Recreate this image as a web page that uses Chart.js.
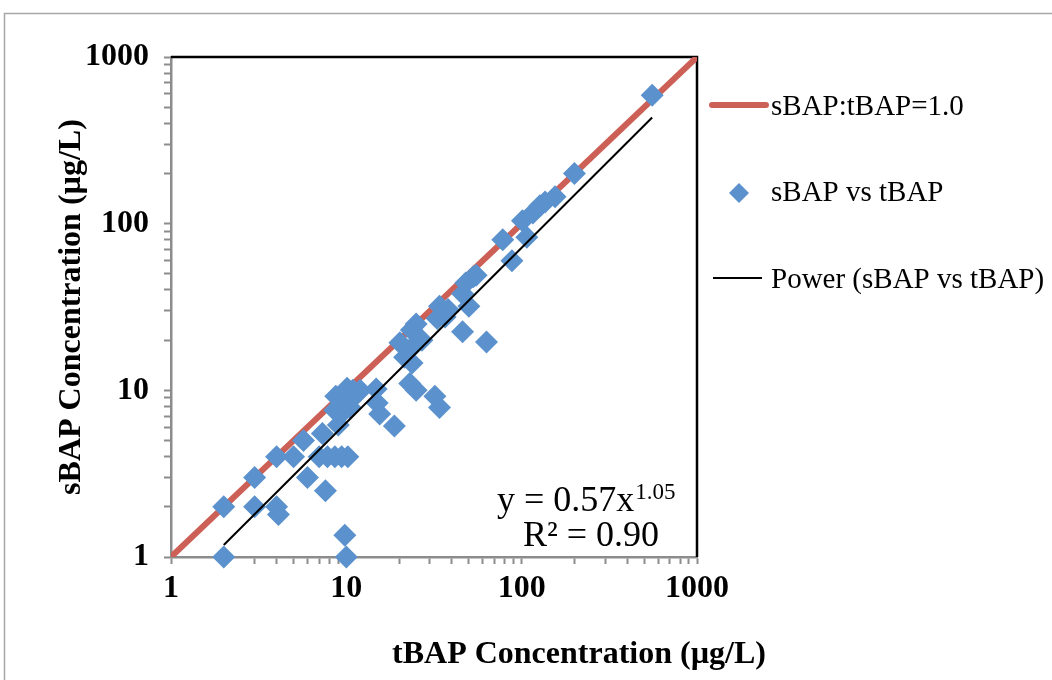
<!DOCTYPE html>
<html>
<head>
<meta charset="utf-8">
<script src="https://cdn.jsdelivr.net/npm/chart.js@4.4.1/dist/chart.umd.min.js"></script>
<style>
  html, body { margin: 0; padding: 0; background: #fff; overflow: hidden; }
</style>
</head>
<body>
<canvas id="mycanvas" width="1052" height="680"></canvas>
<script>
// tBAP (x) and sBAP (y), ug/L
var tBAP = [2, 2, 3, 3, 4, 4, 4.1, 5, 5.7, 6, 7.6, 7.3, 7, 7.8, 8.6, 9.4, 10.2, 9.8, 10,
            8.7, 9.4, 10.1, 10.9, 11.6, 12, 14.8, 8.6, 9, 9.2, 10.5, 15, 15.5, 18.8,
            20.2, 21.5, 23, 23.7, 23.5, 25, 27, 23, 25, 32, 34, 33, 34, 36.6, 38, 46, 63,
            46, 48, 50, 53, 55, 88, 78, 101, 107, 116, 127, 136, 155, 200, 555];
var sBAP = [1, 2, 3, 2, 4, 2, 1.8, 4, 5, 3, 2.5, 5.5, 4, 4, 4, 4, 4, 1.35, 1,
            9.2, 8.4, 10.3, 10, 9.6, 10, 10.2, 7.6, 6.2, 7.1, 7.9, 8.4, 7.2, 6.1,
            19.3, 15.8, 17.5, 14.6, 23, 25, 20, 11, 10, 9.2, 7.9, 27, 32, 27.5, 30.5, 22.5, 19.5,
            38, 44, 32, 48, 49, 60, 80, 104, 83, 116, 128, 135, 145, 200, 590];

// 1:1 line and the power trendline ends
var ratioX = [1, 1000];
var ratioY = [1, 1000];
var powerX = [2, 555];
var powerY = [1.18, 434];

var tickVals = [1, 2, 3, 4, 5, 6, 7, 8, 9, 10, 20, 30, 40, 50, 60, 70, 80, 90,
                100, 200, 300, 400, 500, 600, 700, 800, 900, 1000];
var tickLabels = ['1', '10', '100', '1000'];

var seriesNames = ['sBAP:tBAP=1.0', 'sBAP vs tBAP', 'Power (sBAP vs tBAP)'];
var xTitle = 'tBAP Concentration (\u00b5g/L)';
var yTitle = 'sBAP Concentration (\u00b5g/L)';
var eqText = 'y = 0.57x';
var eqExp = '1.05';
var r2Text = 'R\u00b2 = 0.90';

var RED = 'rgb(205,96,86)';
var BLUE = 'rgb(91,146,205)';
var AXIS = '#8c8c8c';

function pairs(xs, ys) {
	var out = [];
	for (var i in xs) {
		out.push({x: xs[i], y: ys[i]});
	}
	return out;
}

function setTicks(scale) {
	scale.ticks = tickVals.map(function(v) { return {value: v}; });
}

function tickLabel(v) {
	return tickLabels.indexOf(String(v)) >= 0 ? String(v) : '';
}

var extras = {
	id: 'extras',
	beforeDraw: function(chart) {
		var ctx = chart.ctx;
		ctx.save();
		ctx.strokeStyle = '#a6a6a6';
		ctx.lineWidth = 1.5;
		ctx.strokeRect(4.5, 13.5, 1200, 800);
		ctx.restore();
	},
	beforeDatasetsDraw: function(chart) {
		var a = chart.chartArea, ctx = chart.ctx;
		ctx.save();
		ctx.strokeStyle = '#000';
		ctx.lineWidth = 2.5;
		ctx.beginPath();
		ctx.moveTo(a.left, a.top);
		ctx.lineTo(a.right, a.top);
		ctx.lineTo(a.right, a.bottom);
		ctx.stroke();
		ctx.restore();
	},
	afterDraw: function(chart) {
		var a = chart.chartArea, ctx = chart.ctx;
		ctx.save();
		ctx.fillStyle = '#000';

		// x axis title
		ctx.font = 'bold 32px "Liberation Serif"';
		ctx.textAlign = 'center';
		ctx.textBaseline = 'middle';
		ctx.fillText(xTitle, 579, 655);

		// legend
		var lx = a.right + 15;
		var tx = a.right + 74;
		ctx.textAlign = 'left';
		ctx.font = '29px "Liberation Serif"';

		ctx.strokeStyle = RED;
		ctx.lineWidth = 6;
		ctx.lineCap = 'round';
		ctx.beginPath();
		ctx.moveTo(lx, 105);
		ctx.lineTo(lx + 54, 105);
		ctx.stroke();
		ctx.fillText(seriesNames[0], tx, 107);

		ctx.fillStyle = BLUE;
		ctx.beginPath();
		ctx.moveTo(lx + 27 - 10, 193);
		ctx.lineTo(lx + 27, 183);
		ctx.lineTo(lx + 27 + 10, 193);
		ctx.lineTo(lx + 27, 203);
		ctx.closePath();
		ctx.fill();
		ctx.fillStyle = '#000';
		ctx.fillText(seriesNames[1], tx, 193);

		ctx.strokeStyle = '#000';
		ctx.lineWidth = 2;
		ctx.lineCap = 'butt';
		ctx.beginPath();
		ctx.moveTo(lx + 1, 278);
		ctx.lineTo(lx + 50, 278);
		ctx.stroke();
		ctx.fillText(seriesNames[2], tx, 280);

		// trendline equation
		ctx.textBaseline = 'alphabetic';
		ctx.font = '36px "Liberation Serif"';
		var ex = a.right - 200;
		ctx.fillText(eqText, ex, a.bottom - 46);
		var w = ctx.measureText(eqText).width;
		ctx.font = '23px "Liberation Serif"';
		ctx.fillText(eqExp, ex + w + 1, a.bottom - 58);
		ctx.font = '36px "Liberation Serif"';
		ctx.fillText(r2Text, a.right - 174, a.bottom - 11);
		ctx.restore();
	}
};

Chart.defaults.font.family = '"Liberation Serif"';
Chart.defaults.color = '#000';

var ctx = document.getElementById('mycanvas');

var chart = new Chart(ctx, {
	type: 'scatter',
	data: {
		datasets: [
			{
				type: 'line',
				label: seriesNames[0],
				data: pairs(ratioX, ratioY),
				borderColor: RED,
				borderWidth: 6,
				pointRadius: 0,
				fill: false,
				order: 3
			},
			{
				label: seriesNames[1],
				data: pairs(tBAP, sBAP),
				pointStyle: 'rectRot',
				pointRadius: 11.5,
				pointHoverRadius: 11.5,
				backgroundColor: BLUE,
				borderColor: BLUE,
				borderWidth: 0,
				clip: false,
				order: 2
			},
			{
				type: 'line',
				label: seriesNames[2],
				data: pairs(powerX, powerY),
				borderColor: '#000',
				borderWidth: 2,
				pointRadius: 0,
				fill: false,
				order: 1
			}
		]
	},
	options: {
		responsive: false,
		animation: false,
		events: [],
		layout: {padding: {left: 0, top: 57, right: 355, bottom: 0}},
		plugins: {
			legend: {display: false},
			tooltip: {enabled: false}
		},
		scales: {
			x: {
				type: 'logarithmic',
				min: 1,
				max: 1000,
				afterBuildTicks: setTicks,
				afterFit: function(scale) { scale.height = 123; },
				ticks: {
					callback: tickLabel,
					autoSkip: false,
					maxRotation: 0,
					padding: 6,
					font: {size: 32, weight: 'bold'}
				},
				grid: {drawOnChartArea: false, tickLength: 7, tickColor: AXIS, tickWidth: 2},
				border: {color: AXIS, width: 2.5}
			},
			y: {
				type: 'logarithmic',
				min: 1,
				max: 1000,
				afterBuildTicks: setTicks,
				afterFit: function(scale) { scale.width = 171; },
				ticks: {
					callback: tickLabel,
					autoSkip: false,
					padding: 15,
					font: {size: 32, weight: 'bold'}
				},
				title: {
					display: true,
					text: yTitle,
					padding: {top: 53, bottom: 0},
					font: {size: 32, weight: 'bold'}
				},
				grid: {drawOnChartArea: false, tickLength: 7, tickColor: AXIS, tickWidth: 2},
				border: {color: AXIS, width: 2.5}
			}
		}
	},
	plugins: [extras]
});
</script>
</body>
</html>
